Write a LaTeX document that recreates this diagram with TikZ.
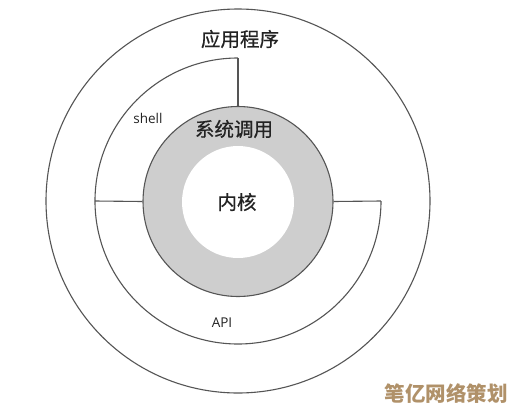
\documentclass[tikz,border=0pt]{standalone}
\usepackage{fontspec}
\newfontfamily\cjk{Noto Sans CJK SC}
\newfontfamily\cjkmid[FakeBold=0.6]{Noto Sans CJK SC}
\newfontfamily\lat{Open Sans}
\definecolor{linec}{RGB}{85,85,85}
\definecolor{ringfill}{RGB}{206,206,206}
\definecolor{txt}{RGB}{35,35,35}
\definecolor{wm}{RGB}{176,145,105}
\begin{document}
\begin{tikzpicture}[x=1pt,y=-1pt,
  ln/.style={draw=linec,line width=1.1pt},
  cjklabel/.style={text=txt,font=\cjkmid\fontsize{19.5}{20}\selectfont,inner sep=0pt},
  latlabel/.style={text=txt,font=\lat\fontsize{13.5}{14}\selectfont,inner sep=0pt}]
\useasboundingbox[fill=white] (0,0) rectangle (515,413);
% outer circle
\node[ln,circle,minimum size=384pt,inner sep=0pt] (outer) at (238,201) {};
% middle partial ring (shell + API)
\coordinate (midtop) at (238,58);
\coordinate (midleft) at (95,201);
\coordinate (midright) at (381,201);
\draw[ln] (midtop) arc[start angle=90,end angle=360,radius=143pt];
% system call ring
\node[ln,circle,fill=ringfill,minimum size=190pt,inner sep=0pt] (core) at (238,201.5) {};
% kernel
\node[circle,fill=white,minimum size=112pt,inner sep=0pt] (kernel) at (238,202) {};
% connectors
\draw[ln] (midtop) -- (core.north);
\draw[ln] (midleft) -- (core.west);
\draw[ln] (midright) -- (core.east);
% labels
\node[cjklabel] (app) at (240,39) {应用程序};
\node[cjklabel] (sys) at (234,129) {系统调用};
\node[cjklabel] (kern) at (237,202) {内核};
\node[latlabel] (shell) at (148,118) {shell};
\node[latlabel] (api) at (222,323) {API};
\node[text=wm,font=\cjk\bfseries\fontsize{20.5}{21}\selectfont,inner sep=0pt] (mark) at (446,394) {笔亿网络策划};
\end{tikzpicture}
\end{document}
